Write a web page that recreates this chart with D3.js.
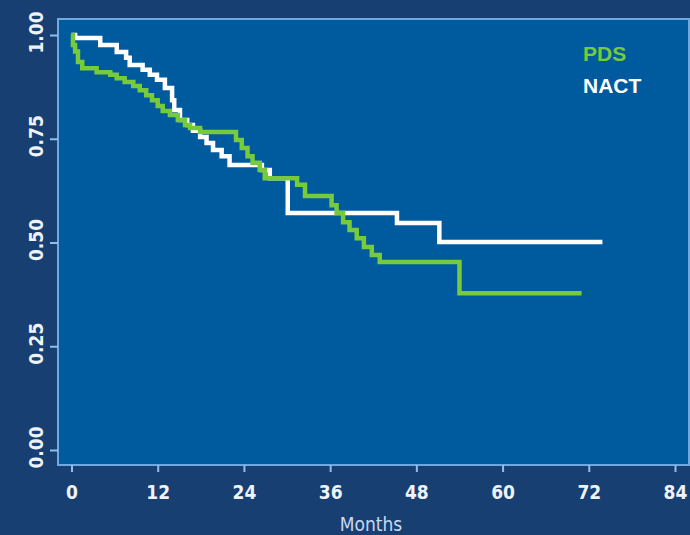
<!DOCTYPE html>
<html>
<head>
<meta charset="utf-8">
<script src="https://cdn.jsdelivr.net/npm/d3@7"></script>
<style>
  html, body { margin: 0; padding: 0; background: #173f72; }
  svg { display: block; }
</style>
</head>
<body>
<svg id="chart" width="690" height="535"></svg>
<script>
// ---- data ----
const xTicks = [0, 12, 24, 36, 48, 60, 72, 84];
const yTicks = [0, 0.25, 0.5, 0.75, 1.0];
const yTickLabels = ["0.00", "0.25", "0.50", "0.75", "1.00"];
const seriesNames = ["PDS", "NACT"];
const pdsTime = [0,0.2,0.5,0.9,1.5,3.5,5.4,6.3,7.4,8.6,9.5,10.4,11.2,12.0,12.7,13.7,14.8,15.8,16.5,17.9,22.9,23.7,24.5,25.2,26.2,26.9,31.4,32.5,36.2,36.9,37.8,38.7,39.7,40.7,41.8,42.9,54.0,71.0];
const pdsSurv = [1.0,0.976,0.96,0.935,0.92,0.91,0.904,0.896,0.887,0.877,0.867,0.855,0.843,0.829,0.817,0.807,0.795,0.783,0.776,0.766,0.747,0.728,0.708,0.692,0.675,0.655,0.639,0.612,0.59,0.571,0.549,0.53,0.51,0.489,0.47,0.453,0.378,0.378];
const nactTime = [0,0.5,4.0,6.3,7.6,8.1,9.9,10.9,11.9,13.0,14.0,14.3,15.1,16.1,16.9,17.9,18.8,19.7,20.9,22.0,26.5,27.6,30.1,45.3,51.2,73.9];
const nactSurv = [1.0,0.993,0.976,0.959,0.945,0.928,0.916,0.904,0.892,0.872,0.843,0.819,0.795,0.783,0.769,0.754,0.740,0.723,0.708,0.687,0.675,0.655,0.571,0.547,0.501,0.501];

// ---- layout ----
const svg = d3.select("#chart");
const W = 690, H = 535;
const panel = {left: 58, top: 19, right: 689, bottom: 465};
const x = d3.scaleLinear().domain([0, 84]).range([71.5, 675]);
const y = d3.scaleLinear().domain([0, 1]).range([450, 35]);
const fontFam = "'Liberation Sans Narrow', 'DejaVu Sans Condensed', 'Liberation Sans', sans-serif";

svg.append("rect").attr("width", W).attr("height", H).attr("fill", "#173f72");
svg.append("rect")
  .attr("x", panel.left).attr("y", panel.top)
  .attr("width", panel.right - panel.left).attr("height", panel.bottom - panel.top)
  .attr("fill", "#005a9e").attr("stroke", "#6fa9df").attr("stroke-width", 2);

// x axis
const xAxis = d3.axisBottom(x).tickValues(xTicks).tickSize(7).tickPadding(14);
const gx = svg.append("g").attr("transform", `translate(0,${panel.bottom})`).call(xAxis);
gx.select(".domain").remove();
gx.selectAll(".tick line").attr("stroke", "#8fbfea").attr("stroke-width", 2);
gx.selectAll(".tick text").attr("fill", "#eef3fa").attr("font-family", fontFam)
  .attr("font-weight", "bold").attr("font-size", 19);

// y axis
const yAxis = d3.axisLeft(y).tickValues(yTicks).tickFormat((d, i) => yTickLabels[i]).tickSize(8).tickPadding(0);
const gy = svg.append("g").attr("transform", `translate(${panel.left},0)`).call(yAxis);
gy.select(".domain").remove();
gy.selectAll(".tick line").attr("stroke", "#8fbfea").attr("stroke-width", 2);
gy.selectAll(".tick text")
  .attr("fill", "#eef3fa").attr("font-family", fontFam)
  .attr("font-weight", "bold").attr("font-size", 19)
  .attr("x", null).attr("dy", null)
  .attr("text-anchor", "middle")
  .attr("transform", "translate(-15,-3) rotate(-90)")
  .attr("y", 0);

// x label
svg.append("text").attr("x", 371).attr("y", 531).attr("text-anchor", "middle")
  .attr("fill", "#c9d9ef").attr("font-family", fontFam).attr("font-size", 19)
  .text("Months");

// curves
const line = d3.line().x(d => x(d[0])).y(d => y(d[1])).curve(d3.curveStepAfter);
const nactPts = nactTime.map((t, i) => [t, nactSurv[i]]);
const pdsPts = pdsTime.map((t, i) => [t, pdsSurv[i]]);
svg.append("path").attr("d", line(nactPts)).attr("fill", "none")
  .attr("stroke", "#ffffff").attr("stroke-width", 4.5).attr("stroke-linejoin", "miter");
svg.append("path").attr("d", line(pdsPts)).attr("fill", "none")
  .attr("stroke", "#76ca3c").attr("stroke-width", 4.5).attr("stroke-linejoin", "miter");

// legend
const legendColors = ["#76ca3c", "#ffffff"];
svg.selectAll("text.legend").data(seriesNames).enter().append("text")
  .attr("class", "legend")
  .attr("x", 583).attr("y", (d, i) => 61 + i * 32)
  .attr("fill", (d, i) => legendColors[i])
  .attr("font-family", "'Liberation Sans', Arial, sans-serif")
  .attr("font-weight", "bold").attr("font-size", 21)
  .text(d => d);
</script>
</body>
</html>
